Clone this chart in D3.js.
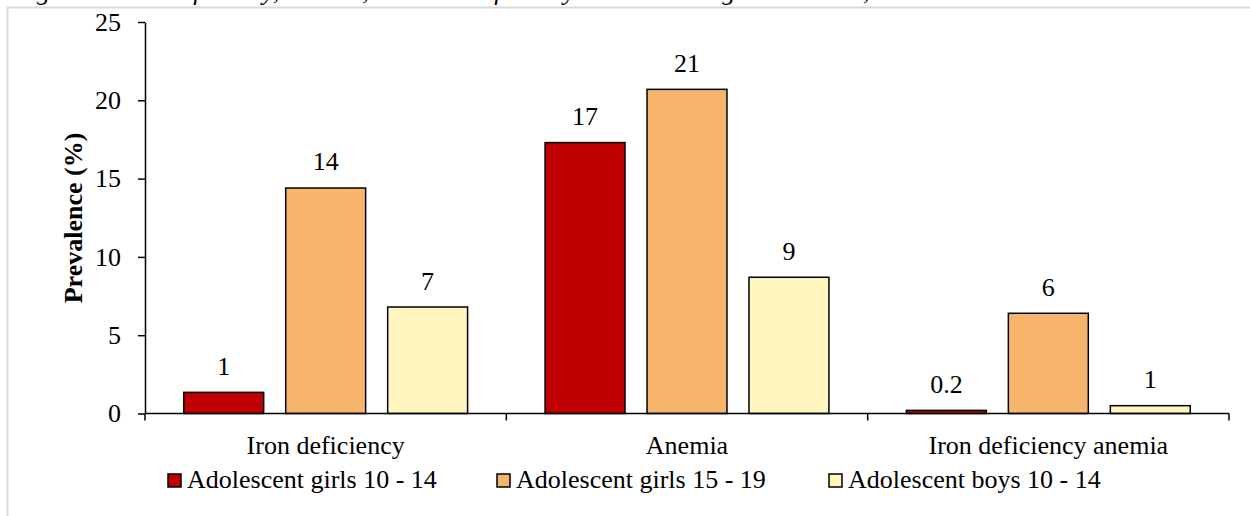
<!DOCTYPE html>
<html><head><meta charset="utf-8">
<script src="https://cdn.jsdelivr.net/npm/d3@7"></script>
<style>
html,body{margin:0;padding:0;background:#fff;}
svg{display:block;font-family:"Liberation Serif","Times New Roman",serif;}
</style></head>
<body><svg id="c" width="1250" height="516"></svg>
<script>
const categories = ["Iron deficiency", "Anemia", "Iron deficiency anemia"];
const seriesNames = ["Adolescent girls 10 - 14", "Adolescent girls 15 - 19", "Adolescent boys 10 - 14"];
const girls1014 = [1.35, 17.3, 0.2];
const girls1519 = [14.4, 20.7, 6.4];
const boys1014 = [6.8, 8.7, 0.5];
const girls1014Labels = ["1", "17", "0.2"];
const girls1519Labels = ["14", "21", "6"];
const boys1014Labels = ["7", "9", "1"];
const yTicks = [0, 5, 10, 15, 20, 25];
const colors = ["#C00000", "#F7B46C", "#FFF5BF"];
const caption = "Figure 4: Iron deficiency, anemia, and iron deficiency anemia among adolescents, Malawi 2015-16";

const seriesValues = [girls1014, girls1519, boys1014];
const seriesLabels = [girls1014Labels, girls1519Labels, boys1014Labels];

const svg = d3.select("#c");
const plotLeft = 145, plotRight = 1229, plotTop = 22, plotBottom = 413.5;
const FS = 26;

// caption (cut off at top, as in the reference)
svg.append("text").attr("x", 14).attr("y", 0).attr("font-style", "italic")
  .attr("font-size", FS).attr("fill", "#000").text(caption);
// frame
svg.append("rect").attr("x", 7.5).attr("y", 7.5).attr("width", 1260).attr("height", 520)
  .attr("fill", "#fff").attr("stroke", "#d9d9d9").attr("stroke-width", 2);

const y = d3.scaleLinear().domain([0, 25]).range([plotBottom, plotTop]);
const x0 = d3.scaleBand().domain(categories).range([plotLeft, plotRight]).padding(0);
const x1 = d3.scaleBand().domain(seriesNames).range([0, x0.bandwidth()])
  .paddingInner(0.216).paddingOuter(0.38);

// bars
const data = [];
categories.forEach((c, ci) => seriesNames.forEach((s, si) => {
  data.push({c, s, si, v: seriesValues[si][ci], l: seriesLabels[si][ci]});
}));
svg.append("g").selectAll("rect").data(data).join("rect")
  .attr("x", d => x0(d.c) + x1(d.s))
  .attr("y", d => y(d.v))
  .attr("width", x1.bandwidth())
  .attr("height", d => y(0) - y(d.v))
  .attr("fill", d => colors[d.si])
  .attr("stroke", "#000").attr("stroke-width", 1.5);
svg.append("g").selectAll("text").data(data).join("text")
  .attr("x", d => x0(d.c) + x1(d.s) + x1.bandwidth() / 2)
  .attr("y", d => y(d.v) - 17.5)
  .attr("text-anchor", "middle").attr("font-size", FS).attr("fill", "#000")
  .text(d => d.l);

// y axis
const yAxis = d3.axisLeft(y).tickValues(yTicks).tickSize(7).tickPadding(17).tickSizeOuter(0);
const gy = svg.append("g").attr("transform", `translate(${plotLeft},0)`).call(yAxis);
gy.select(".domain").attr("stroke", "#000").attr("stroke-width", 1.5);
gy.selectAll(".tick line").attr("stroke", "#000").attr("stroke-width", 1.5);
gy.selectAll(".tick text").attr("font-size", FS).attr("font-family", "Liberation Serif").attr("fill", "#000");

// x axis
svg.append("line").attr("x1", plotLeft).attr("x2", plotRight).attr("y1", plotBottom).attr("y2", plotBottom)
  .attr("stroke", "#000").attr("stroke-width", 1.5);
const bounds = categories.map(c => x0(c)).concat([plotRight]);
svg.append("g").selectAll("line").data(bounds).join("line")
  .attr("x1", d => d).attr("x2", d => d).attr("y1", plotBottom).attr("y2", plotBottom + 7)
  .attr("stroke", "#000").attr("stroke-width", 1.5);
svg.append("g").selectAll("text").data(categories).join("text")
  .attr("x", d => x0(d) + x0.bandwidth() / 2).attr("y", 454)
  .attr("text-anchor", "middle").attr("font-size", FS).attr("fill", "#000").text(d => d);

// y title
svg.append("text").attr("transform", "translate(82,218) rotate(-90)")
  .attr("text-anchor", "middle").attr("font-size", FS).attr("font-weight", "bold")
  .attr("fill", "#000").text("Prevalence (%)");

// legend
const legendX = [168, 497, 829];
const lg = svg.append("g").selectAll("g").data(seriesNames).join("g")
  .attr("transform", (d, i) => `translate(${legendX[i]},0)`);
lg.append("rect").attr("x", 0).attr("y", 474).attr("width", 13).attr("height", 13)
  .attr("fill", (d, i) => colors[i]).attr("stroke", "#000").attr("stroke-width", 1.5);
lg.append("text").attr("x", 19).attr("y", 488).attr("font-size", FS).attr("fill", "#000").text(d => d);
</script></body></html>
